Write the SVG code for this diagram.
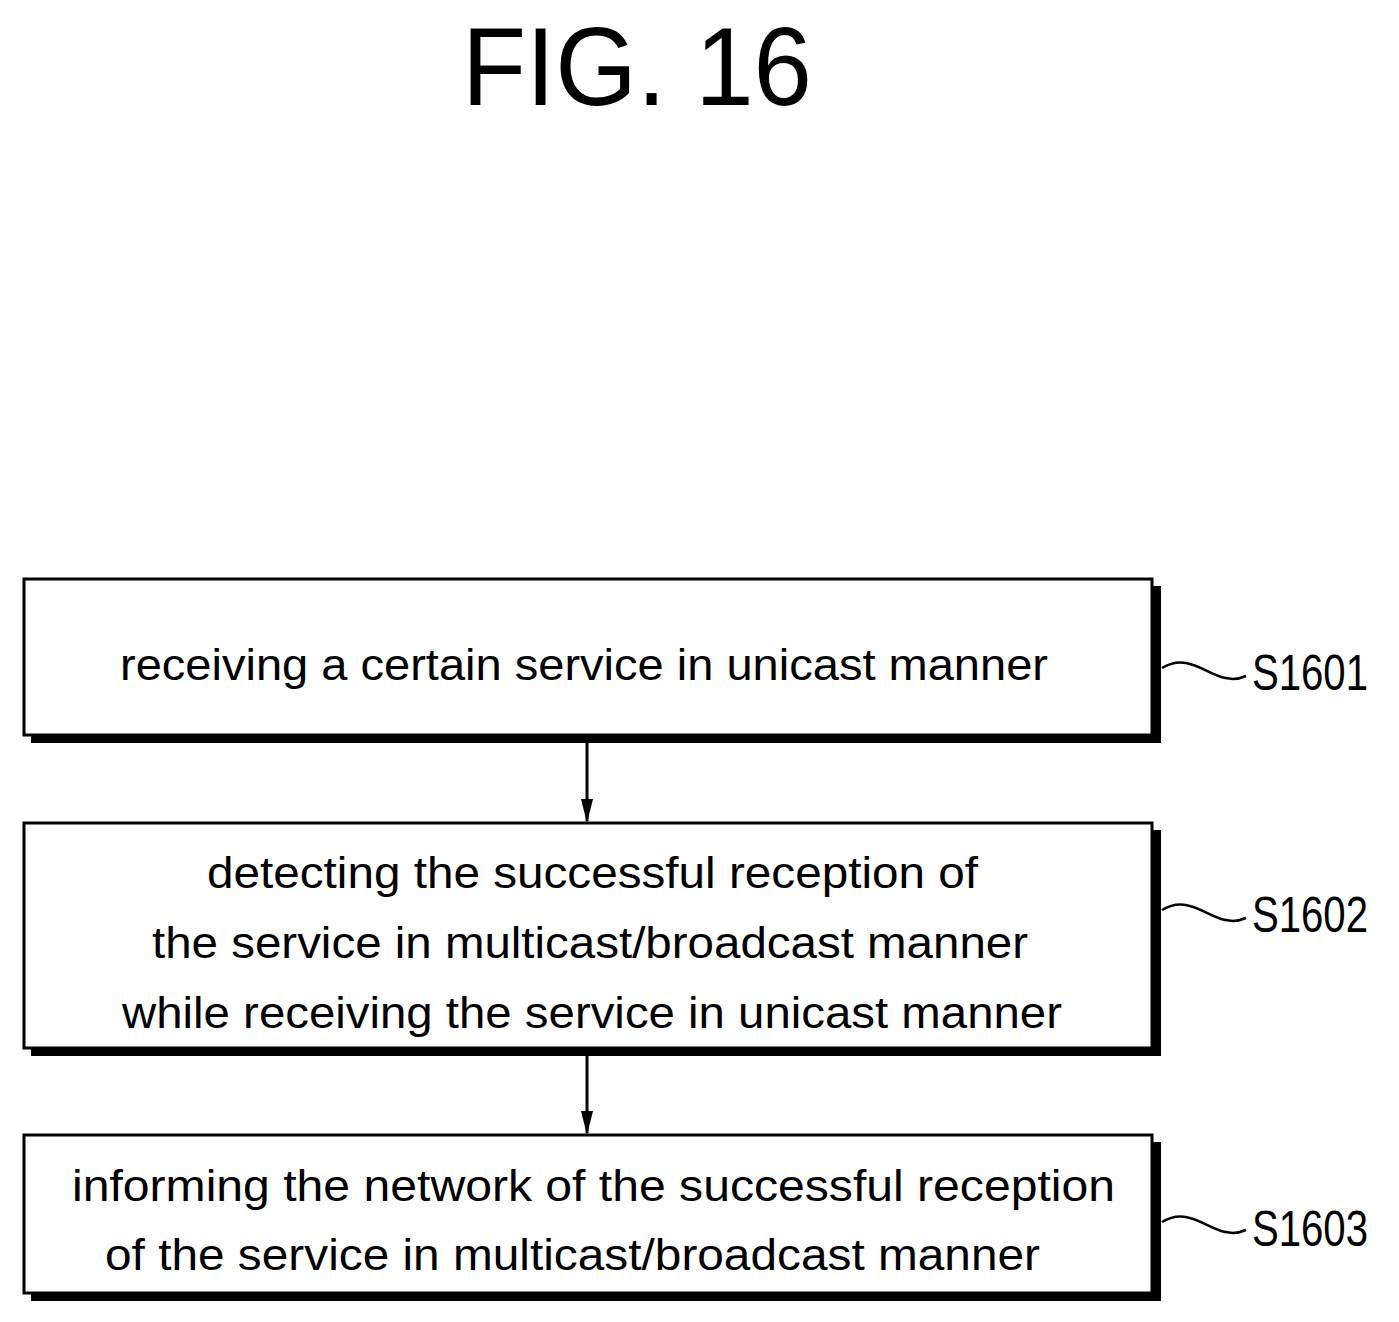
<svg xmlns="http://www.w3.org/2000/svg" width="1399" height="1322" viewBox="0 0 1399 1322">
<style>
.box{fill:#fff;stroke:#000;stroke-width:3}
.sh{fill:#000}
text{font-family:"Liberation Sans",Arial,sans-serif;fill:#000}
.t{font-size:44px;text-anchor:start}
.lab{font-size:50px}
.sq{fill:none;stroke:#000;stroke-width:2.5}
.ln{stroke:#000;stroke-width:3}
</style>
<defs><marker id="ah" markerWidth="24" markerHeight="12" refX="22" refY="6" orient="auto" markerUnits="userSpaceOnUse" viewBox="0 0 24 12"><path d="M0 0L24 6L0 12Z" fill="#000"/></marker></defs>
<rect width="1399" height="1322" fill="#fff"/>
<text x="462" y="105" font-size="112" textLength="350" lengthAdjust="spacingAndGlyphs">FIG. 16</text>
<g id="n1">
<rect class="sh" x="31" y="586" width="1130" height="157"/>
<rect class="box" x="24" y="579" width="1128" height="156"/>
<text class="t" x="120" y="680" textLength="928" lengthAdjust="spacingAndGlyphs">receiving a certain service in unicast manner</text>
<path class="sq" d="M1162 668C1195 648 1215 690 1246 676"/>
<text class="lab" x="1252" y="690" textLength="116" lengthAdjust="spacingAndGlyphs">S1601</text>
</g>
<g id="n2">
<rect class="sh" x="31" y="830" width="1130" height="226"/>
<rect class="box" x="24" y="823" width="1128" height="225"/>
<text class="t" x="207" y="888" textLength="771" lengthAdjust="spacingAndGlyphs">detecting the successful reception of</text>
<text class="t" x="152" y="958" textLength="876" lengthAdjust="spacingAndGlyphs">the service in multicast/broadcast manner</text>
<text class="t" x="122" y="1028" textLength="940" lengthAdjust="spacingAndGlyphs">while receiving the service in unicast manner</text>
<path class="sq" d="M1162 910C1195 890 1215 932 1246 918"/>
<text class="lab" x="1252" y="932" textLength="116" lengthAdjust="spacingAndGlyphs">S1602</text>
</g>
<g id="n3">
<rect class="sh" x="31" y="1142" width="1130" height="159"/>
<rect class="box" x="24" y="1135" width="1128" height="158"/>
<text class="t" x="72" y="1201" textLength="1043" lengthAdjust="spacingAndGlyphs">informing the network of the successful reception</text>
<text class="t" x="105" y="1270" textLength="935" lengthAdjust="spacingAndGlyphs">of the service in multicast/broadcast manner</text>
<path class="sq" d="M1162 1222C1195 1202 1215 1244 1246 1230"/>
<text class="lab" x="1252" y="1246" textLength="116" lengthAdjust="spacingAndGlyphs">S1603</text>
</g>
<g id="connectors">
<line class="ln" x1="587" y1="743" x2="587" y2="821" marker-end="url(#ah)"/>
<line class="ln" x1="587" y1="1056" x2="587" y2="1133" marker-end="url(#ah)"/>
</g>
</svg>
